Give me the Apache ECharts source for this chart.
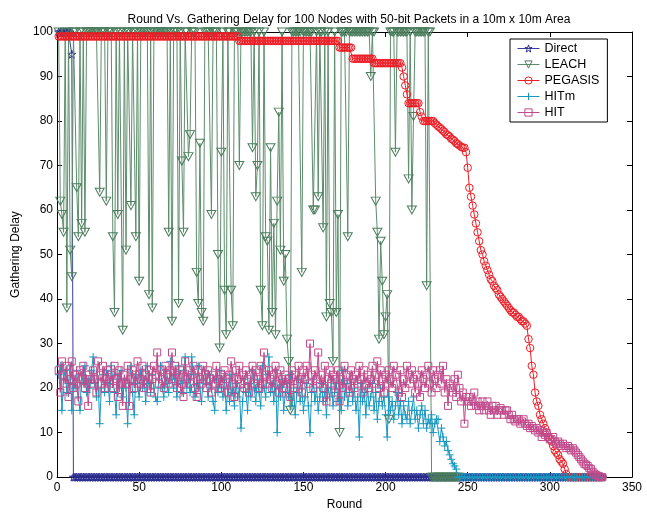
<!DOCTYPE html>
<html>
<head>
<meta charset="utf-8">
<script src="https://cdn.jsdelivr.net/npm/echarts@6/dist/echarts.min.js"></script>
<style>html,body{margin:0;padding:0;background:#fff;overflow:hidden}#c{width:647px;height:516px}</style>
</head>
<body>
<div id="c"></div>
<script>
const titleText = 'Round Vs. Gathering Delay for 100 Nodes with 50-bit Packets in a 10m x 10m Area';
const xName = 'Round';
const yName = 'Gathering Delay';
const seriesNames = ['Direct', 'LEACH', 'PEGASIS', 'HITm', 'HIT'];
const firstRound = 1;

// Direct (round 1 ... 332)
const directDelay = [
100,100,100,100,100,100,100,100,95,0,
0,0,0,0,0,0,0,0,0,0,0,0,0,0,0,0,0,0,0,0,
0,0,0,0,0,0,0,0,0,0,0,0,0,0,0,0,0,0,0,0,
0,0,0,0,0,0,0,0,0,0,0,0,0,0,0,0,0,0,0,0,
0,0,0,0,0,0,0,0,0,0,0,0,0,0,0,0,0,0,0,0,
0,0,0,0,0,0,0,0,0,0,0,0,0,0,0,0,0,0,0,0,
0,0,0,0,0,0,0,0,0,0,0,0,0,0,0,0,0,0,0,0,
0,0,0,0,0,0,0,0,0,0,0,0,0,0,0,0,0,0,0,0,
0,0,0,0,0,0,0,0,0,0,0,0,0,0,0,0,0,0,0,0,
0,0,0,0,0,0,0,0,0,0,0,0,0,0,0,0,0,0,0,0,
0,0,0,0,0,0,0,0,0,0,0,0,0,0,0,0,0,0,0,0,
0,0,0,0,0,0,0,0,0,0,0,0,0,0,0,0,0,0,0,0,
0,0,0,0,0,0,0,0,0,0,0,0,0,0,0,0,0,0,0,0,
0,0,0,0,0,0,0,0,0,0,0,0,0,0,0,0,0,0,0,0,
0,0,0,0,0,0,0,0,0,0,0,0,0,0,0,0,0,0,0,0,
0,0,0,0,0,0,0,0,0,0,0,0,0,0,0,0,0,0,0,0,
0,0,0,0,0,0,0,0,0,0,0,0,0,0,0,0,0,0,0,0,
0,0
];

// LEACH (round 1 ... 245)
const leachDelay = [
100,62,59,55,100,38,100,51,45,100,
100,65,54,100,57,100,55,100,100,100,
100,100,100,100,100,64,100,100,100,62,
100,100,100,54,37,100,59,100,100,33,
100,51,100,100,61,100,100,54,100,44,
100,100,100,100,100,41,100,38,100,100,
100,100,100,100,100,100,100,55,100,35,
100,100,100,39,100,71,55,100,100,72,
77,100,100,100,46,39,75,37,35,100,
100,100,100,59,100,100,100,50,29,73,
100,42,32,100,100,42,34,100,100,100,
70,100,100,100,100,100,100,100,74,100,
63,70,100,42,34,100,54,53,33,74,
37,57,32,62,82,51,100,44,50,31,
26,15,100,100,100,100,100,100,46,100,
100,100,100,100,100,60,60,100,63,100,
100,56,100,36,100,39,37,26,100,37,
59,10,100,100,100,100,54,100,100,100,
100,100,100,100,100,100,100,100,100,100,
90,100,100,62,55,31,53,44,32,36,
41,13,100,100,100,73,100,100,100,100,
100,100,100,67,100,60,81,100,100,100,
100,100,100,100,43,100,100,0,0,0,
0,0,0,0,0,0,0,0,0,0,
0,0,0,0,0
];

// PEGASIS (round 1 ... 332)
const pegasisDelay = [
99,99,99,99,99,99,99,99,99,99,
99,99,99,99,99,99,99,99,99,99,
99,99,99,99,99,99,99,99,99,99,
99,99,99,99,99,99,99,99,99,99,
99,99,99,99,99,99,99,99,99,99,
99,99,99,99,99,99,99,99,99,99,
99,99,99,99,99,99,99,99,99,99,
99,99,99,99,99,99,99,99,99,99,
99,99,99,99,99,99,99,99,99,99,
99,99,99,99,99,99,99,99,99,99,
99,99,99,99,99,99,99,99,99,99,
98,98,98,98,98,98,98,98,98,98,
98,98,98,98,98,98,98,98,98,98,
98,98,98,98,98,98,98,98,98,98,
98,98,98,98,98,98,98,98,98,98,
98,98,98,98,98,98,98,98,98,98,
98,98,98,98,98,98,98,98,98,98,
98,
96.5,96.5,96.5,96.5,96.5,96.5,96.5,96.5,
94,94,94,94,94,94,94,94,94,94,94,94,94,
93,93,93,93,93,93,93,93,93,93,93,93,93,93,93,93,93,
92,90,88,86,
84,84,84,84,84,84,84,
82,81,
80,80,80,80,80,80,80,
79.5,79.2,78.8,78.5,78.2,77.8,77.5,77,76.8,76.5,
76,75.8,75.5,75,74.8,74.5,74.2,74,74,
73,69.5,65,63,61,59,57,55,53,51,
50,48.5,47.5,46.5,45.5,44.5,44,43,42.5,42,
41,40.5,40,39.5,39,38.5,38,37.5,37,37,
36.5,36,36,35.5,35,35,34.5,34,
31,29,25,23,19,17,16,14,13,12,
11,10,9,8.5,8,7,6,5.5,5,4,
3.5,3,1.8,0.7,
0,0,0,0,0,0,0,0,0,0,0,0,0,0,0,0,0,0,0,0,0,0
];

// HITm (round 1 ... 332)
const hitmDelay = [
23,25,15,22,24,19,21,25,15,22,
20,24,18,15,23,21,25,19,22,20,
24,27,21,18,22,12,20,23,19,24,
21,17,25,22,19,14,23,20,24,18,
22,20,12,21,25,19,14,23,21,18,
24,20,22,17,25,21,19,23,20,18,
17,22,25,20,18,24,21,19,26,22,
20,23,18,25,21,19,24,27,20,22,
19,27,23,18,21,25,20,17,22,24,
21,18,23,20,17,15,22,19,24,20,
18,22,15,20,17,23,19,16,21,18,
20,11,17,22,19,15,21,18,24,20,
17,22,19,16,25,20,18,23,27,19,
21,17,24,10,20,18,22,15,19,21,
18,23,16,20,14,19,22,17,20,15,
18,21,16,10,19,22,17,20,15,18,
21,17,19,14,20,18,22,16,19,21,
17,20,15,24,18,21,16,19,22,17,
20,15,18,9,21,17,19,14,20,16,
18,21,15,19,13,17,20,16,18,14,
9,18,15,17,13,16,19,14,17,12,
16,14,13,17,12,15,18,13,15,11,
14,16,12,15,11,13,12,14,10,12,
13,13,8,11,9,7,8,6,5,4,
3,2.5,1.8,
0,0,0,0,0,0,0,0,0,0,0,0,0,0,0,0,0,0,0,0,
0,0,0,0,0,0,0,0,0,0,0,0,0,0,0,0,0,0,0,0,
0,0,0,0,0,0,0,0,0,0,0,0,0,0,0,0,0,0,0,0,
0,0,0,0,0,0,0,0,0,0,0,0,0,0,0,0,0,0,0,0,
0,0,0,0,0,0,0,0,0
];

// HIT (round 1 ... 332)
const hitDelay = [
24,19,26,23,21,25,18,22,26,20,
23,21,17,24,22,25,20,23,16,22,
21,24,22,19,26,23,21,25,20,22,
24,21,23,20,25,22,18,24,21,16,
23,21,25,16,22,24,20,23,26,21,
22,25,20,23,21,24,19,22,25,23,
28,21,24,22,20,25,23,21,24,28,
22,25,20,23,24,21,18,26,22,24,
21,23,25,20,18,24,22,21,25,23,
20,24,22,19,23,21,25,22,20,23,
21,24,22,19,23,26,21,18,24,22,
25,21,23,20,24,22,19,23,25,21,
24,22,20,25,21,28,23,21,24,22,
20,23,25,21,19,24,22,20,23,21,
22,18,24,20,23,21,25,22,19,24,
22,25,21,30,23,20,24,22,28,21,
23,20,25,17,22,24,21,23,19,22,
24,17,22,20,25,23,21,19,24,22,
20,23,21,25,22,19,24,21,23,20,
22,25,21,23,26,20,24,22,19,23,
21,24,22,20,25,23,21,19,24,18,
22,20,25,23,21,24,22,19,23,21,
18,24,22,20,23,25,21,19,24,22,
20,23,24,21,25,19,22,16,21,20,
19,22,18,23,20,17,19,12,18,17,
18,16,17,19,16,17,15,16,17,15,
16,17,15,14,16,15,16,14,15,15.5,
15,14,15,15,14,13,14,13,12.5,13,
13,12,12.5,13,12,11.5,12,11,11.5,11,
10.5,11,10,10.5,9,10,9.5,10,9,8.5,
8.5,9,8,7.5,8,7.5,7,7.5,7,6.5,
7,6.5,6,6.5,6,5.5,5,4.5,4,3.5,
3,2.8,2.5,2,1.8,1.2,0.8,0.5,0.3,0.2,
0,0
];

const xTicks = {min: 0, max: 350, interval: 50};
const yTicks = {min: 0, max: 100, interval: 10};

const FONT = '"Liberation Sans", Arial, Helvetica, sans-serif';
const colors = {
  Direct: '#2b2e8f',
  LEACH: '#4a7d5c',
  PEGASIS: '#ee1c25',
  HITm: '#1797c0',
  HIT: '#c04a8c'
};
const lineColors = {
  Direct: '#3b3e9c',
  LEACH: '#5d8d6c',
  PEGASIS: '#ee1c25',
  HITm: '#1797c0',
  HIT: '#c04a8c'
};
const symbols = {
  Direct: 'path://M5,0 L6.18,3.45 L9.76,3.45 L6.9,5.6 L7.94,9.05 L5,6.9 L2.06,9.05 L3.1,5.6 L0.24,3.45 L3.82,3.45 Z',
  LEACH: 'path://M0,0 L10,0 L5,9 Z',
  PEGASIS: 'circle',
  HITm: 'path://M0,5 L10,5 M5,0 L5,10',
  HIT: 'rect'
};
const symSize = {Direct: 8, LEACH: [9, 8], PEGASIS: 7.5, HITm: 8, HIT: 7};

function toPoints(arr) { return arr.map((v, i) => [i + firstRound, v]); }
const values = [directDelay, leachDelay, pegasisDelay, hitmDelay, hitDelay];

const series = seriesNames.map((name, k) => ({
  name: name,
  type: 'line',
  data: toPoints(values[k]),
  symbol: symbols[name],
  symbolSize: symSize[name],
  symbolKeepAspect: false,
  showAllSymbol: true,
  clip: false,
  z: 2 + k,
  lineStyle: {color: lineColors[name], width: 1},
  itemStyle: {color: 'rgba(0,0,0,0)', borderColor: colors[name], borderWidth: 1},
  emphasis: {disabled: true}
}));

const axisCommon = {
  type: 'value',
  splitLine: {show: false},
  axisLine: {show: true, onZero: false, lineStyle: {color: '#000', width: 1}},
  axisTick: {show: true, inside: true, length: 5, lineStyle: {color: '#000', width: 1}},
};

const el = document.getElementById('c');
const chart = echarts.init(el, null, {renderer: 'canvas', width: 647, height: 516});
chart.setOption({
  animation: false,
  backgroundColor: '#fff',
  textStyle: {fontFamily: FONT},
  title: {
    text: titleText, left: 344, top: 9, textAlign: 'center',
    textStyle: {fontSize: 12, fontWeight: 'normal', color: '#000', fontFamily: FONT}
  },
  grid: {left: 57, right: 15, top: 32, bottom: 31, containLabel: false},
  legend: {
    data: seriesNames.map(n => ({
      name: n,
      itemStyle: {color: 'rgba(0,0,0,0)', borderColor: colors[n], borderWidth: 1},
      lineStyle: {color: lineColors[n], width: 1}
    })),
    orient: 'vertical',
    left: 510, top: 39,
    padding: [3, 8, 3, 7],
    itemWidth: 22, itemHeight: 9, itemGap: 3,
    backgroundColor: '#fff',
    borderColor: '#000', borderWidth: 1,
    textStyle: {fontSize: 12.5, color: '#000', fontFamily: FONT}
  },
  xAxis: [
    Object.assign({}, axisCommon, {
      min: xTicks.min, max: xTicks.max, interval: xTicks.interval, position: 'bottom',
      name: xName, nameLocation: 'middle', nameGap: 20,
      nameTextStyle: {fontSize: 12, color: '#000', fontFamily: FONT},
      axisLabel: {margin: 5, color: '#000', fontSize: 12, fontFamily: FONT}
    }),
    Object.assign({}, axisCommon, {
      min: xTicks.min, max: xTicks.max, interval: xTicks.interval, position: 'top',
      axisLabel: {show: false}
    })
  ],
  yAxis: [
    Object.assign({}, axisCommon, {
      min: yTicks.min, max: yTicks.max, interval: yTicks.interval, position: 'left',
      name: yName, nameLocation: 'middle', nameGap: 30, nameRotate: 90,
      nameTextStyle: {fontSize: 12, color: '#000', fontFamily: FONT},
      axisLabel: {margin: 4, color: '#000', fontSize: 12, fontFamily: FONT}
    }),
    Object.assign({}, axisCommon, {
      min: yTicks.min, max: yTicks.max, interval: yTicks.interval, position: 'right',
      axisLabel: {show: false}
    })
  ],
  series: series
});
</script>
</body>
</html>
